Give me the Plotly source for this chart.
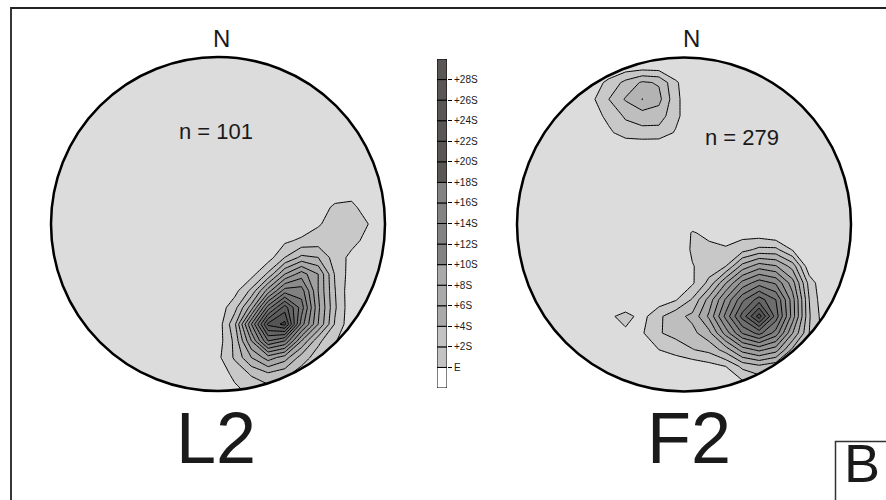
import numpy as np
import plotly.graph_objects as go

W, H = 886, 500

# ---------------- data (density in sigma units) ----------------
level_start, level_end, level_step = 2, 28, 2

# L2 stereonet: grid in unit-circle coordinates (u east, v north)
l2_u = [-0.1, 0.0, 0.1, 0.2, 0.3, 0.4, 0.5, 0.6, 0.7, 0.8, 0.9, 1.0]
l2_v = [0.3, 0.2, 0.1, 0.0, -0.1, -0.2, -0.3, -0.4, -0.5, -0.6, -0.7, -0.8, -0.9, -1.0, -1.1]
l2_z = [
    [0, 0, 0, 0, 0, 0, 0, 0, 0, 0, 0, 0],
    [0, 0, 0, 0, 0, 0, 0, 0, 1.0, 1.3, 0.5, 0],
    [0, 0, 0, 0, 0, 0, 0, 1.2, 2.3, 2.4, 1.2, 0],
    [0, 0, 0, 0, 0, 0, 0.5, 1.8, 2.8, 3.3, 2.0, 0.5],
    [0, 0, 0, 0, 0, 1.6, 2.4, 2.9, 3.0, 2.6, 1.4, 0.3],
    [0, 0, 0, 0, 1.0, 4.0, 6.5, 6.0, 3.0, 1.5, 0.5, 0],
    [0, 0, 0, 1.2, 4.4, 10, 13, 10, 3.8, 1.0, 0, 0],
    [0, 0, 1.3, 4.5, 11, 17, 17, 10, 4.1, 0.5, 0, 0],
    [0, 0.8, 3.2, 9, 19, 25, 19, 10.5, 4.3, 0.5, 0, 0],
    [0, 0.8, 5.5, 16, 26.5, 28.6, 17, 10, 3.8, 0.5, 0, 0],
    [0, 1.0, 4.5, 12, 20, 18, 10, 4.5, 2.2, 0.5, 0, 0],
    [0, 1.5, 4.3, 8, 11, 9, 5, 3, 1.5, 0, 0, 0],
    [0, 0.8, 2.5, 4.2, 5.5, 4.5, 3, 2, 1, 0, 0, 0],
    [0, 0.5, 1.5, 2.5, 3.0, 2.5, 2.0, 1.5, 0.5, 0, 0, 0],
    [0, 0, 0, 0, 0, 0, 0, 0, 0, 0, 0, 0],
]

# F2 stereonet, north-west cluster
f2a_u = [-0.65, -0.55, -0.45, -0.35, -0.25, -0.15, -0.05, 0.05]
f2a_v = [1.05, 0.95, 0.85, 0.75, 0.65, 0.55, 0.45]
f2a_z = [
    [0, 0, 0, 0, 0, 0, 0, 0],
    [0, 0, 0.3, 0.5, 0.6, 0.5, 0.2, 0],
    [0, 1.0, 2.5, 4.6, 6.3, 5.8, 2.3, 0.5],
    [0.3, 1.6, 4.0, 6.2, 8.05, 6.6, 2.6, 0.3],
    [0, 1.0, 2.6, 4.3, 5.0, 5.0, 2.6, 0.3],
    [0, 0.3, 1.6, 3.0, 3.3, 3.2, 1.8, 0],
    [0, 0, 0, 0, 0, 0, 0, 0],
]

# F2 stereonet, main south-east cluster (with the small isolated patch)
f2b_u = [-0.55, -0.45, -0.35, -0.25, -0.15, -0.05, 0.05, 0.15, 0.25, 0.35,
         0.45, 0.55, 0.65, 0.75, 0.85, 0.95]
f2b_v = [0.05, -0.05, -0.15, -0.25, -0.35, -0.45, -0.55, -0.65, -0.75, -0.85, -0.95, -1.05]
f2b_z = [
    [0, 0, 0, 0, 0, 0, 0, 0, 0, 0, 0, 0, 0, 0, 0, 0],
    [0, 0, 0, 0, 0, 0, 2.2, 1.4, 0, 1.2, 0.8, 0, 0, 0, 0, 0],
    [0, 0, 0, 0, 0, 0.3, 2.3, 2.6, 2.5, 3.2, 4.5, 4.5, 1.8, 0, 0, 0],
    [0, 0, 0, 0, 0, 0.5, 1.9, 2.8, 4.0, 8.8, 11.1, 10.2, 7.2, 0.5, 0, 0],
    [0, 0, 0, 0, 0, 0.5, 1.7, 4.6, 9.9, 14.7, 17.1, 15.7, 10.9, 3.2, 0, 0],
    [0, 0, 0, 0, 0.8, 1.8, 4.2, 8.8, 14.3, 19.5, 23, 20, 12.9, 4.0, 0, 0],
    [0, 1.6, 2.7, 1.3, 3.6, 5.3, 6.5, 10.4, 16.6, 22.8, 29, 21.1, 13.1, 4.2, 0.5, 0],
    [0, 0.8, 1.6, 1.8, 3.8, 4.8, 5.4, 7.4, 12.9, 18.2, 20.7, 17.2, 10.1, 4.0, 1.0, 0],
    [0, 0, 0, 1.5, 2.0, 2.6, 3.9, 4.6, 6.9, 10.9, 12.5, 10.9, 5.5, 3.5, 2.0, 0],
    [0, 0, 0, 0, 0.5, 0.8, 0.6, 1.2, 2.0, 4.5, 5.5, 4.5, 3.0, 2.0, 0, 0],
    [0, 0, 0, 0, 0, 0, 0, 0, 0.8, 1.5, 2.5, 2.5, 1.5, 0.5, 0, 0],
    [0, 0, 0, 0, 0, 0, 0, 0, 0, 0, 0, 0, 0, 0, 0, 0],
]

# band colours: below 2S, 2-4S, ..., above 28S
band_colors = ["#dcdcdc", "#c8c8c8", "#bebebe", "#b3b3b3", "#a9a9a9", "#9f9f9f",
               "#959595", "#8b8b8b", "#818181", "#777777", "#6e6e6e", "#656565",
               "#5d5d5d", "#555555", "#4d4d4d"]

# legend scale
legend_labels = ["E", "+2S", "+4S", "+6S", "+8S", "+10S", "+12S", "+14S",
                 "+16S", "+18S", "+20S", "+22S", "+24S", "+26S", "+28S"]
legend_colors = ["#ffffff", "#c3c3c3", "#c3c3c3", "#aaaaaa", "#aaaaaa", "#aaaaaa",
                 "#838383", "#838383", "#838383", "#838383",
                 "#5a5656", "#5a5656", "#5a5656", "#5a5656", "#5a5656", "#5a5656"]

net_titles = ["L2", "F2"]
net_counts = ["n = 101", "n = 279"]

# ---------------- layout geometry (pixels) ----------------
FONT = "Liberation Sans, Arial, sans-serif"
nets = [dict(cx=218, cy=224, R=167), dict(cx=684, cy=224.5, R=167)]
HALF = 1.2


def xdom(cx, R):
    return [(cx - HALF * R) / W, (cx + HALF * R) / W]


def ydom(cy, R):
    return [1 - (cy + HALF * R) / H, 1 - (cy - HALF * R) / H]


def px(x):
    return x / W


def py(y):
    return 1 - y / H


ncol = len(band_colors)
colorscale = [[i / (ncol - 1), c] for i, c in enumerate(band_colors)]
contours = dict(start=level_start, end=level_end, size=level_step,
                coloring="fill", showlines=True)


def contour_trace(u, v, z, ax):
    return go.Contour(
        x=u, y=v[::-1], z=z[::-1], autocontour=False, contours=contours,
        colorscale=colorscale, showscale=False,
        line=dict(color="black", width=1, smoothing=0),
        hoverinfo="skip", xaxis="x" + ax, yaxis="y" + ax,
    )


fig = go.Figure()
fig.add_trace(contour_trace(l2_u, l2_v, l2_z, ""))
fig.add_trace(contour_trace(f2a_u, f2a_v, f2a_z, "2"))
fig.add_trace(contour_trace(f2b_u, f2b_v, f2b_z, "2"))

# legend bar
nseg = len(legend_colors)
fig.add_trace(go.Bar(
    x=[0] * nseg, y=[1] * nseg, base=list(range(nseg)), width=1,
    marker=dict(color=legend_colors, line=dict(color="black", width=1)),
    xaxis="x3", yaxis="y3", showlegend=False, hoverinfo="skip",
))

axis_common = dict(visible=False, range=[-HALF, HALF], fixedrange=True)
layout = dict(
    width=W, height=H, margin=dict(l=0, r=0, t=0, b=0),
    paper_bgcolor="white", plot_bgcolor="white", showlegend=False,
    barmode="overlay",
    font=dict(family=FONT, color="#1a1a1a"),
    xaxis=dict(domain=xdom(nets[0]["cx"], nets[0]["R"]), anchor="y", **axis_common),
    yaxis=dict(domain=ydom(nets[0]["cy"], nets[0]["R"]), anchor="x", **axis_common),
    xaxis2=dict(domain=xdom(nets[1]["cx"], nets[1]["R"]), anchor="y2", **axis_common),
    yaxis2=dict(domain=ydom(nets[1]["cy"], nets[1]["R"]), anchor="x2", **axis_common),
    xaxis3=dict(domain=[437 / W, 447 / W], range=[-0.5, 0.5], visible=False,
                anchor="y3", fixedrange=True),
    yaxis3=dict(domain=[py(388), py(59)], range=[0, nseg], anchor="x3", side="right",
                tickvals=list(range(1, nseg)), ticktext=legend_labels,
                ticks="outside", ticklen=4, tickwidth=1, tickcolor="black",
                showgrid=False, zeroline=False, showline=False, fixedrange=True,
                tickfont=dict(size=10, family=FONT, color="#1a1a1a")),
)
fig.update_layout(**layout)

shapes = []
theta = np.linspace(0, 2 * np.pi, 241)
ring = " ".join(("M" if i == 0 else "L") + f" {np.cos(t):.5f},{np.sin(t):.5f}"
                for i, t in enumerate(theta)) + " Z"
for i, ax in enumerate(["", "2"]):
    xr, yr = "x" + ax, "y" + ax
    # circle fill (below traces)
    shapes.append(dict(type="circle", xref=xr, yref=yr, x0=-1, y0=-1, x1=1, y1=1,
                       fillcolor=band_colors[0], line=dict(width=0), layer="below"))
    # white mask outside circle
    box = f"M {-HALF},{-HALF} L {HALF},{-HALF} L {HALF},{HALF} L {-HALF},{HALF} Z "
    shapes.append(dict(type="path", xref=xr, yref=yr, path=box + ring,
                       fillcolor="white", fillrule="evenodd", line=dict(width=0),
                       layer="above"))
    # circle outline
    shapes.append(dict(type="circle", xref=xr, yref=yr, x0=-1, y0=-1, x1=1, y1=1,
                       line=dict(color="black", width=2.5), layer="above"))

# outer frame and "B" box
shapes.append(dict(type="rect", xref="paper", yref="paper", x0=px(11), y0=py(8),
                   x1=1.05, y1=-0.05, line=dict(color="#222222", width=1.8)))
shapes.append(dict(type="rect", xref="paper", yref="paper", x0=px(835.5), y0=py(441.5),
                   x1=1.05, y1=-0.05, line=dict(color="#333333", width=1.5)))
fig.update_layout(shapes=shapes)

ann = []


def text(x, y, s, size):
    ann.append(dict(x=px(x), y=py(y), xref="paper", yref="paper", text=s,
                    showarrow=False, xanchor="center", yanchor="middle",
                    font=dict(size=size, family=FONT, color="#1a1a1a")))


text(221.5, 39, "N", 24)
text(691, 39, "N", 24)
text(216, 131, net_counts[0], 22)
text(742, 137, net_counts[1], 22)
text(216, 438, net_titles[0], 72)
text(689, 438, net_titles[1], 72)
text(862, 463, "B", 54)
fig.update_layout(annotations=ann)

fig.write_html("out.html", config={"displayModeBar": False})
